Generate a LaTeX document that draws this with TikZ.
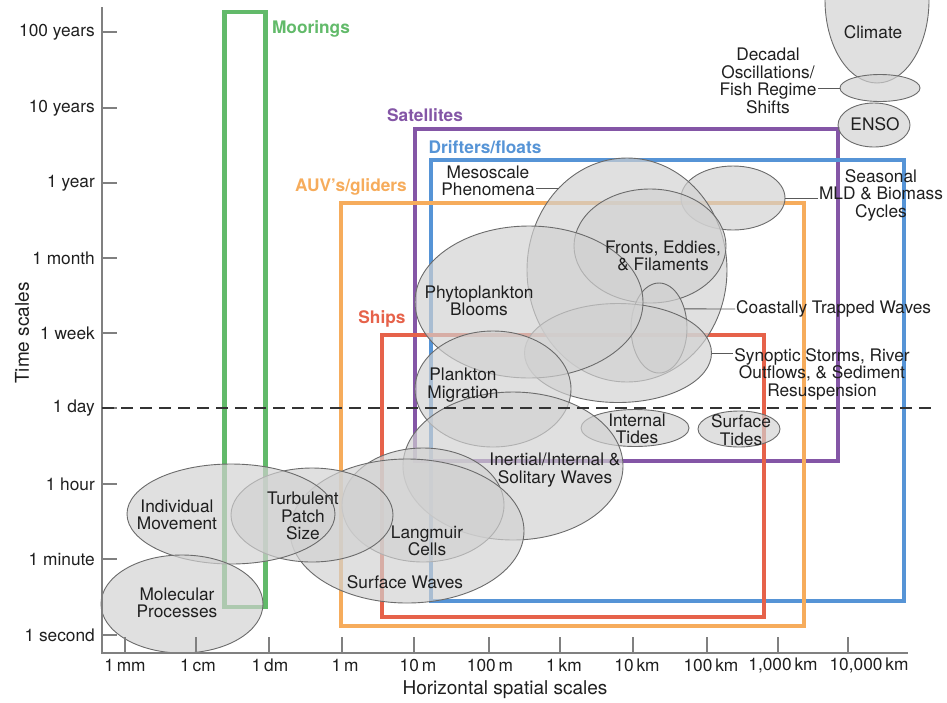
\documentclass[tikz,border=0pt]{standalone}
\usepackage{fontspec}
\setmainfont{TeX Gyre Heros}
\usetikzlibrary{shapes.geometric}
\tikzset{>=stealth}
\definecolor{moorgreen}{RGB}{98,186,106}
\definecolor{satpurple}{RGB}{132,86,166}
\definecolor{driftblue}{RGB}{86,148,214}
\definecolor{auvorange}{RGB}{246,172,92}
\definecolor{shipred}{RGB}{230,98,74}
\tikzset{
    blob/.style={ellipse, draw=black!58, line width=0.9pt, fill=black!18, fill opacity=0.68, inner sep=0pt, outer sep=0pt},
    box/.style={line width=4.5pt},
    lbl/.style={text=black!88, align=center, inner sep=1pt, font=\fontsize{17.3}{17.5}\selectfont},
    tag/.style={inner sep=0pt, font=\fontsize{17.3}{17.5}\selectfont\bfseries},
    leader/.style={black!65, line width=0.9pt},
    axis/.style={black!50, line width=2pt},
}

\begin{document}
\begin{tikzpicture}[x=1pt, y=-1pt]
    \useasboundingbox (0,0) rectangle (947,702);
    % sampling platforms
    \draw[box, moorgreen] (224.5,12) rectangle (265.5,607);
    \draw[box, satpurple] (415,129) rectangle (838,461);
    \draw[box, driftblue] (431,160) rectangle (904,601);
    \draw[box, auvorange] (341,203) rectangle (804,626);
    \draw[box, shipred] (382,335) rectangle (764,617);
    \node[tag, text=moorgreen] (moortag) at (311,29) {Moorings};
    \node[tag, text=satpurple] (sattag) at (425,115) {Satellites};
    \node[tag, text=driftblue] (drifttag) at (485,147) {Drifters/floats};
    \node[tag, text=auvorange] (auvtag) at (351,187) {AUV's/gliders};
    \node[tag, text=shipred] (shiptag) at (382,319) {Ships};
    % processes
    \begin{scope}
        \clip (0,0) rectangle (947,702);
        \node[blob, minimum width=104pt, minimum height=166pt] (climate) at (877,0) {};
    \end{scope}
    \node[blob, minimum width=80pt, minimum height=27pt] (decadal) at (880,88) {};
    \node[blob, minimum width=72pt, minimum height=44pt] (enso) at (874,125) {};
    \node[blob, minimum width=104pt, minimum height=64pt] (season) at (733,198) {};
    \node[blob, minimum width=200pt, minimum height=224pt] (meso) at (627,270) {};
    \node[blob, minimum width=152pt, minimum height=114pt] (fronts) at (650,246) {};
    \node[blob, minimum width=56pt, minimum height=90pt] (coastal) at (659,328) {};
    \node[blob, minimum width=187pt, minimum height=99pt] (synoptic) at (618,353) {};
    \node[blob, minimum width=228pt, minimum height=152pt] (phyto) at (529,302) {};
    \node[blob, minimum width=156pt, minimum height=116pt] (plankmig) at (493,389) {};
    \node[blob, minimum width=108pt, minimum height=37pt] (inttides) at (635,428) {};
    \node[blob, minimum width=82pt, minimum height=36pt] (surftides) at (739,429) {};
    \node[blob, minimum width=220pt, minimum height=148pt] (inertial) at (513,466) {};
    \node[blob, minimum width=162pt, minimum height=114pt] (langmuir) at (423,505) {};
    \node[blob, minimum width=234pt, minimum height=144pt] (surfwaves) at (407,531) {};
    \node[blob, minimum width=162pt, minimum height=94pt] (turbulent) at (312,515) {};
    \node[blob, minimum width=208pt, minimum height=100pt] (indiv) at (231,514) {};
    \node[blob, minimum width=162pt, minimum height=98pt] (molecular) at (182,604) {};
    % axes
    \draw[axis] (102,7) -- (102,653) -- (908,653);
    \foreach \y/\txt in {32/100 years, 108/10 years, 183/1 year, 258/1 month, 333/1 week, 408/1 day, 484/1 hour, 559/1 minute, 635/1 second}{
        \draw[axis, line width=1.2pt] (102,\y) -- (117,\y);
        \node[lbl, anchor=east] (ylab\y) at (96,\y) {\txt};
    }
    \foreach \x in {125,196,269,342,414,489,560,633,707,778,848}
        \draw[axis, line width=1.2pt] (\x,637) -- (\x,653);
    \foreach \x/\txt in {125/1\,mm, 198/1\,cm, 270/1\,dm, 345/1\,m, 418/10\,m, 490/100\,m, 564/1\,km, 637/10\,km, 711/100\,km, 783/{1,000\,km}, 869/{10,000\,km}}
        \node[lbl] (xlab\x) at (\x,665) {\txt};
    \node[lbl, rotate=90, font=\fontsize{19}{19}\selectfont] (ytitle) at (22,333) {Time scales};
    \node[lbl, font=\fontsize{19}{19}\selectfont] (xtitle) at (505,690) {Horizontal spatial scales};
    \draw[black!80, line width=2.2pt, dash pattern=on 12pt off 7pt] (102,408) -- (935,408);
    % labels
    \node[lbl] (climatetxt) at (873,32) {Climate};
    \node[lbl] (dectxt) at (768,81) {Decadal\\Oscillations/\\Fish Regime\\Shifts};
    \node[lbl] (ensotxt) at (875,124) {ENSO};
    \node[lbl] (seasontxt) at (881,195) {Seasonal\\MLD \& Biomass\\Cycles};
    \node[lbl] (mesotxt) at (488,181) {Mesoscale\\Phenomena};
    \node[lbl] (frontstxt) at (663,256) {Fronts, Eddies,\\\& Filaments};
    \node[lbl, anchor=west] (coasttxt) at (735,309) {Coastally Trapped Waves};
    \node[lbl] (syntxt) at (822,374) {Synoptic Storms, River\\Outflows, \& Sediment\\Resuspension};
    \node[lbl] (phytotxt) at (479,301) {Phytoplankton\\Blooms};
    \node[lbl] (plankmigtxt) at (463,385) {Plankton\\Migration};
    \node[lbl] (inttidestxt) at (637,429) {Internal\\Tides};
    \node[lbl] (surftidestxt) at (741,430) {Surface\\Tides};
    \node[lbl] (inertialtxt) at (555,470) {Inertial/Internal \&\\Solitary Waves};
    \node[lbl] (langmuirtxt) at (427,541) {Langmuir\\Cells};
    \node[lbl] (surfwavestxt) at (405,582) {Surface Waves};
    \node[lbl] (turbulenttxt) at (303,516) {Turbulent\\Patch\\Size};
    \node[lbl] (indivtxt) at (177,515) {Individual\\Movement};
    \node[lbl] (moleculartxt) at (177,603) {Molecular\\Processes};
    % leaders
    \draw[leader] (decadal.west) -- (decadal.west -| dectxt.east);
    \draw[leader] (season.east) -- (season.east -| seasontxt.west);
    \draw[leader] (meso.130) -- (meso.130 -| mesotxt.east);
    \draw[leader] (coastal.37) -- (coasttxt.west);
    \draw[leader] (synoptic.east) -- (synoptic.east -| syntxt.west);
   %\draw[leader] (plankmig.east) -- (inertial.north);
\end{tikzpicture}
\end{document}
